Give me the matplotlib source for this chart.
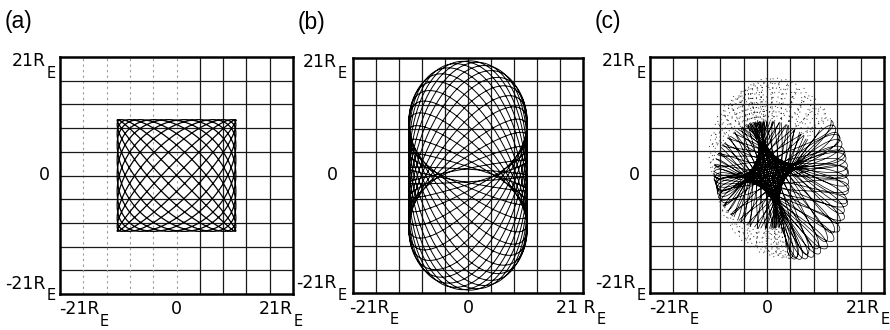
import numpy as np
import matplotlib.pyplot as plt
from matplotlib import font_manager
from matplotlib.transforms import offset_copy

# panel extents, in Earth radii
lim = 21.0
grid_ticks = np.linspace(-lim, lim, 11)

# (a) box orbit: amplitudes and frequency pair
a_amp_x, a_amp_y = 10.7, 9.9
a_freq_x, a_freq_y = 11, 12
a_phase = 0.15

# (b) stadium orbit: circle radius, vertical swing, beat ratio, number of turns
b_radius = 10.8
b_swing = 9.7
b_ratio = 1 + 1 / 24
b_turns = 24

# (c) star orbit: cusp offset, chord half length, loop width, chord count
c_cusp = 3.1
c_half_len = 14.0
c_bias = 2.5
c_loop = 3.2
c_chords = 52
c_scale = (0.85, 1.12)
c_tilt = np.deg2rad(14)
c_shift = (0.4, 0.4)

names = {f.name for f in font_manager.fontManager.ttflist}
narrow = 'Liberation Sans Narrow' if 'Liberation Sans Narrow' in names else 'DejaVu Sans'
plain = 'Liberation Sans' if 'Liberation Sans' in names else 'DejaVu Sans'

fig = plt.figure(figsize=(8.9, 3.3), dpi=100)
W, H = 890, 330
boxes = [(60, 57, 293, 294), (353, 58, 583, 293), (650, 57, 884, 293)]
axs = [fig.add_axes([l / W, 1 - b / H, (r - l) / W, (b - t) / H]) for l, t, r, b in boxes]


def frame(ax, faint_left=False):
    ax.set_xlim(-lim, lim)
    ax.set_ylim(-lim, lim)
    ax.set_xticks([])
    ax.set_yticks([])
    for v in grid_ticks[1:-1]:
        ax.axhline(v, color='#1a1a1a', lw=0.9, zorder=1)
        if faint_left and v <= 0:
            ax.axvline(v, color='#9a9a9a', lw=0.8, ls=(0, (2, 3)), zorder=1)
        else:
            ax.axvline(v, color='#1a1a1a', lw=0.9, zorder=1)
    for sp in ax.spines.values():
        sp.set_linewidth(1.8)


def re_text(ax, x, y, dx, dy, num, ha='right'):
    # number + R, then a dropped E after it
    tr = offset_copy(ax.transAxes, fig, x=dx, y=dy, units='dots')
    t = ax.text(x, y, num + 'R', transform=tr, ha=ha, va='baseline', fontsize=12.5,
                family=narrow, clip_on=False)
    ax.annotate('E', xy=(1, 0), xycoords=t, xytext=(0.5, 4.5),
                textcoords='offset pixels', ha='left', va='top', fontsize=10.5,
                family=narrow, annotation_clip=False)


def labels(ax, tag, right_num='21', right_gap=0, ylab_gap=14, zero_gap=10, left_x=-1):
    ax.text(0, 1, tag, transform=offset_copy(ax.transAxes, fig, x=-55, y=47, units='dots'),
            ha='left', va='top', fontsize=16.5, family=plain)
    # y axis
    re_text(ax, 0, 1, -ylab_gap, -9, '21')
    ax.text(0, 0.5, '0', transform=offset_copy(ax.transAxes, fig, x=-zero_gap, y=0, units='dots'),
            ha='right', va='center', fontsize=12.5, family=narrow)
    re_text(ax, 0, 0, -ylab_gap, 5, '-21')
    # x axis
    re_text(ax, 0, 0, left_x, -20, '-21', ha='left')
    ax.text(0.5, 0, '0', transform=offset_copy(ax.transAxes, fig, x=0, y=-20, units='dots'),
            ha='center', va='baseline', fontsize=12.5, family=narrow)
    re_text(ax, 1, 0, right_gap, -20, right_num)


# (a)
ax = axs[0]
frame(ax, faint_left=True)
ta_ = np.linspace(0, 2 * np.pi, 30000)
ax.plot(a_amp_x * np.cos(a_freq_x * ta_), a_amp_y * np.cos(a_freq_y * ta_ + a_phase),
        color='k', lw=0.9, zorder=2)
labels(ax, '(a)')

# (b)
ax = axs[1]
frame(ax)
tb = np.linspace(0, 2 * np.pi * b_turns, 40000)
ax.plot(b_radius * np.cos(tb), b_radius * np.sin(tb) + b_swing * np.sin(b_ratio * tb),
        color='k', lw=0.7, zorder=2)
labels(ax, '(b)', right_num='21 ', right_gap=13, ylab_gap=16, zero_gap=15, left_x=-4)

# (c)
ax = axs[2]
frame(ax)
u = np.linspace(0, 2 * np.pi * c_chords, 100000)
phi = u / c_chords
side = c_cusp * np.sin(2 * phi) + c_loop * np.sin(u) * np.cos(u) ** 2
nrm = np.stack([np.cos(phi), np.sin(phi)])
drc = np.stack([-np.sin(phi), np.cos(phi)])
along = c_half_len * np.cos(u) + c_bias * np.cos(phi + np.pi / 2) * np.cos(u) ** 2
pts = side * nrm + along * drc
rot = np.array([[np.cos(c_tilt), -np.sin(c_tilt)], [np.sin(c_tilt), np.cos(c_tilt)]])
pts = rot @ (np.diag(c_scale) @ pts)
xc, yc = pts[0] + c_shift[0], pts[1] + c_shift[1]
rad = np.hypot(xc, yc)
ang = np.degrees(np.arctan2(yc, xc))
sparse = (rad > 9.5) & ~((ang > -75) & (ang < 40))
ax.plot(np.where(sparse, np.nan, xc), np.where(sparse, np.nan, yc), color='k', lw=0.5, zorder=2)
ax.plot(np.where(sparse, xc, np.nan), np.where(sparse, yc, np.nan), color='#333333',
        lw=0.7, ls=(0, (1, 4)), zorder=2)
labels(ax, '(c)', right_gap=-4)

fig.savefig('out.png', dpi=100)
